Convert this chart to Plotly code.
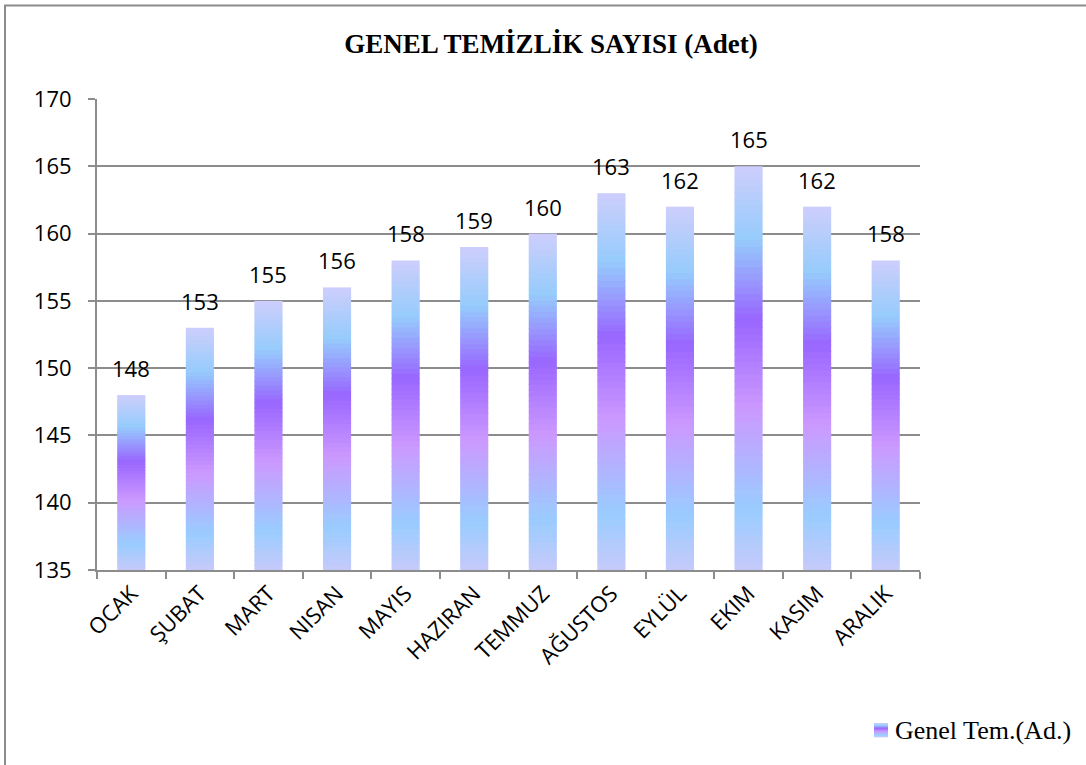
import plotly.graph_objects as go

# Monthly cleaning counts
months = ["OCAK", "ŞUBAT", "MART", "NISAN", "MAYIS", "HAZIRAN",
          "TEMMUZ", "AĞUSTOS", "EYLÜL", "EKIM", "KASIM", "ARALIK"]
counts = [148, 153, 155, 156, 158, 159, 160, 163, 162, 165, 162, 158]

title_text = "GENEL TEMİZLİK SAYISI (Adet)"
series_name = "Genel Tem.(Ad.)"
y_min, y_max, y_step = 135, 170, 5

# Gradient stops along each bar (fraction from base, rgb)
grad_stops = [
    (0.00, (198, 202, 250)),
    (0.15, (153, 204, 255)),
    (0.40, (204, 153, 255)),
    (0.62, (153, 102, 255)),
    (0.82, (150, 204, 252)),
    (1.00, (206, 206, 252)),
]


def grad_color(t):
    for (t0, c0), (t1, c1) in zip(grad_stops[:-1], grad_stops[1:]):
        if t0 <= t <= t1:
            f = (t - t0) / (t1 - t0) if t1 > t0 else 0
            r, g, b = (round(a + (b_ - a) * f) for a, b_ in zip(c0, c1))
            return f"rgb({r},{g},{b})"
    r, g, b = grad_stops[-1][1]
    return f"rgb({r},{g},{b})"


W, H = 1086, 765
ml, mr, mt, mb = 97, 166, 99, 195
pw, ph = W - ml - mr, H - mt - mb

fig = go.Figure()

# Each bar is painted as thin horizontal slices from base to value; every
# slice except the top one reaches a hair above the next to hide seams
n_slices = 60
overlap = 0.06
for i in range(n_slices):
    base = [y_min + (v - y_min) * i / n_slices for v in counts]
    seg = [(v - y_min) / n_slices + (overlap if i < n_slices - 1 else 0) for v in counts]
    fig.add_trace(go.Bar(
        x=months, y=seg, base=base,
        marker=dict(color=grad_color((i + 0.5) / n_slices), line=dict(width=0)),
        showlegend=False, hoverinfo="skip",
    ))

# Value labels above the bars
for m, v in zip(months, counts):
    fig.add_annotation(x=m, y=v, text=str(v), showarrow=False,
                       yanchor="middle", yshift=27,
                       font=dict(family="Open Sans", size=22, color="#000000"))

# Legend entry: small shaded square plus series name
lx0, ly0, lsz = 874, 723, 14
for i in range(lsz):
    t = 1 - (i + 0.5) / lsz
    fig.add_shape(type="rect", xref="paper", yref="paper",
                  x0=(lx0 - ml) / pw, x1=(lx0 + lsz - ml) / pw,
                  y0=(H - mb - (ly0 + i + 1.3)) / ph, y1=(H - mb - (ly0 + i)) / ph,
                  fillcolor=grad_color(t), line=dict(width=0))
fig.add_annotation(xref="paper", yref="paper",
                   x=(lx0 + lsz + 5 - ml) / pw, y=(H - mb - (ly0 + lsz / 2)) / ph,
                   text=series_name, showarrow=False, xanchor="left", yanchor="middle",
                   font=dict(family="Liberation Serif", size=26, color="#000000"))

# Outer chart frame
fig.add_shape(type="rect", xref="paper", yref="paper",
              x0=(5 - ml) / pw, x1=(W + 20 - ml) / pw,
              y0=(H - mb - (H + 20)) / ph, y1=(H - mb - 5.5) / ph,
              line=dict(color="#8c8c8c", width=2), fillcolor="rgba(0,0,0,0)",
              layer="below")

fig.update_layout(
    width=W, height=H,
    margin=dict(l=ml, r=mr, t=mt, b=mb),
    paper_bgcolor="white", plot_bgcolor="white",
    barmode="overlay", bargap=0.59,
    showlegend=False,
    title=dict(text=f"<b>{title_text}</b>", x=551 / W, xanchor="center",
               y=1 - 44 / H, yanchor="middle",
               font=dict(family="Liberation Serif", size=27, color="#000000")),
    xaxis=dict(
        type="category", tickangle=-45, tickson="boundaries",
        ticks="outside", ticklen=7, tickcolor="#8c8c8c", tickwidth=2,
        showline=True, linecolor="#8c8c8c", linewidth=2,
        showgrid=False,
        tickfont=dict(family="Open Sans", size=22, color="#000000"),
    ),
    yaxis=dict(
        range=[y_min, y_max], dtick=y_step, tick0=y_min,
        ticks="outside", ticklen=7, tickcolor="#8c8c8c", tickwidth=2,
        showline=True, linecolor="#8c8c8c", linewidth=2,
        showgrid=True, gridcolor="#8c8c8c", gridwidth=2,
        zeroline=False, ticklabelstandoff=12,
        tickfont=dict(family="Open Sans", size=22, color="#000000"),
    ),
)

fig.write_html("out.html")
